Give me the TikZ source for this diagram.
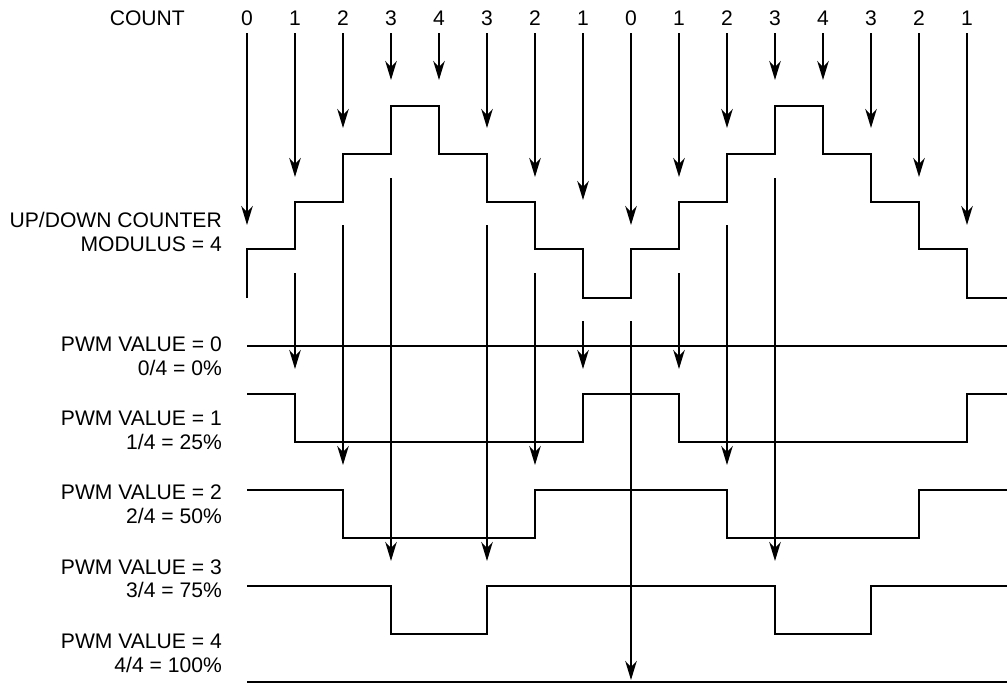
\documentclass[tikz,border=0pt]{standalone}
\usepackage{fontspec}
\setmainfont{Liberation Sans}
\usetikzlibrary{arrows.meta}
\begin{document}
\begin{tikzpicture}[x=1pt,y=-1pt,
  wave/.style={line width=1.8pt, line join=miter},
  arr/.style={line width=1.8pt,-{Stealth[length=19pt,width=11.5pt,inset=6pt]}},
  lbl/.style={font=\fontsize{21.1}{24}\selectfont, inner sep=0pt, anchor=base east},
  cnt/.style={font=\fontsize{21.1}{24}\selectfont, anchor=base, inner xsep=0pt, inner ysep=8pt, text depth=0pt}]
\useasboundingbox (0,0) rectangle (1007,683);

% labels
\node[lbl] (countlbl) at (185,25) {COUNT};
\node[lbl] (udc1) at (222,227) {UP/DOWN COUNTER};
\node[lbl] (udc2) at (222,251) {MODULUS = 4};
\node[lbl] (p0a) at (222,351) {PWM VALUE = 0};
\node[lbl] (p0b) at (222,375) {0/4 = 0\%};
\node[lbl] (p1a) at (222,425) {PWM VALUE = 1};
\node[lbl] (p1b) at (222,449) {1/4 = 25\%};
\node[lbl] (p2a) at (222,499) {PWM VALUE = 2};
\node[lbl] (p2b) at (222,523) {2/4 = 50\%};
\node[lbl] (p3a) at (222,574) {PWM VALUE = 3};
\node[lbl] (p3b) at (222,597) {3/4 = 75\%};
\node[lbl] (p4a) at (222,648) {PWM VALUE = 4};
\node[lbl] (p4b) at (222,672) {4/4 = 100\%};

% count labels and arrows to the counter
\foreach \i/\v/\t in {0/0/225,1/1/177,2/2/128,3/3/80,4/4/80,5/3/128,6/2/177,7/1/200,
                      8/0/225,9/1/177,10/2/128,11/3/80,12/4/80,13/3/128,14/2/177,15/1/225}{
  \node[cnt] (c\i) at ({247+48*\i},25) {\v};
  \coordinate (t\i) at ({247+48*\i},\t);
  \draw[arr] (c\i.south) -- (t\i);
}

% counter waveform
\draw[wave] (247,298) -- (247,249) -- (295,249) -- (295,202) -- (343,202) -- (343,154)
  -- (391,154) -- (391,106) -- (439,106) -- (439,154) -- (487,154) -- (487,202)
  -- (535,202) -- (535,249) -- (583,249) -- (583,298) -- (631,298) -- (631,249)
  -- (679,249) -- (679,202) -- (727,202) -- (727,154) -- (775,154) -- (775,106)
  -- (823,106) -- (823,154) -- (871,154) -- (871,202) -- (919,202) -- (919,249)
  -- (967,249) -- (967,298) -- (1007,298);

% compare arrows from the counter to the PWM outputs
\foreach \i/\s/\e in {1/273/369,2/225/465,3/178/561,5/225/561,6/273/465,
                      7/321/369,8/321/680,9/273/369,10/225/465,11/178/561}{
  \coordinate (u\i) at ({247+48*\i},\s);
  \coordinate (v\i) at ({247+48*\i},\e);
  \draw[arr] (u\i) -- (v\i);
}

% PWM outputs
\draw[wave] (247,346) -- (1007,346);
\draw[wave] (247,394) -- (295,394) -- (295,442) -- (583,442) -- (583,394) -- (679,394)
  -- (679,442) -- (967,442) -- (967,394) -- (1007,394);
\draw[wave] (247,490) -- (343,490) -- (343,538) -- (535,538) -- (535,490) -- (727,490)
  -- (727,538) -- (919,538) -- (919,490) -- (1007,490);
\draw[wave] (247,586) -- (391,586) -- (391,634) -- (487,634) -- (487,586) -- (775,586)
  -- (775,634) -- (871,634) -- (871,586) -- (1007,586);
\draw[wave] (247,682) -- (1007,682);
\end{tikzpicture}
\end{document}
